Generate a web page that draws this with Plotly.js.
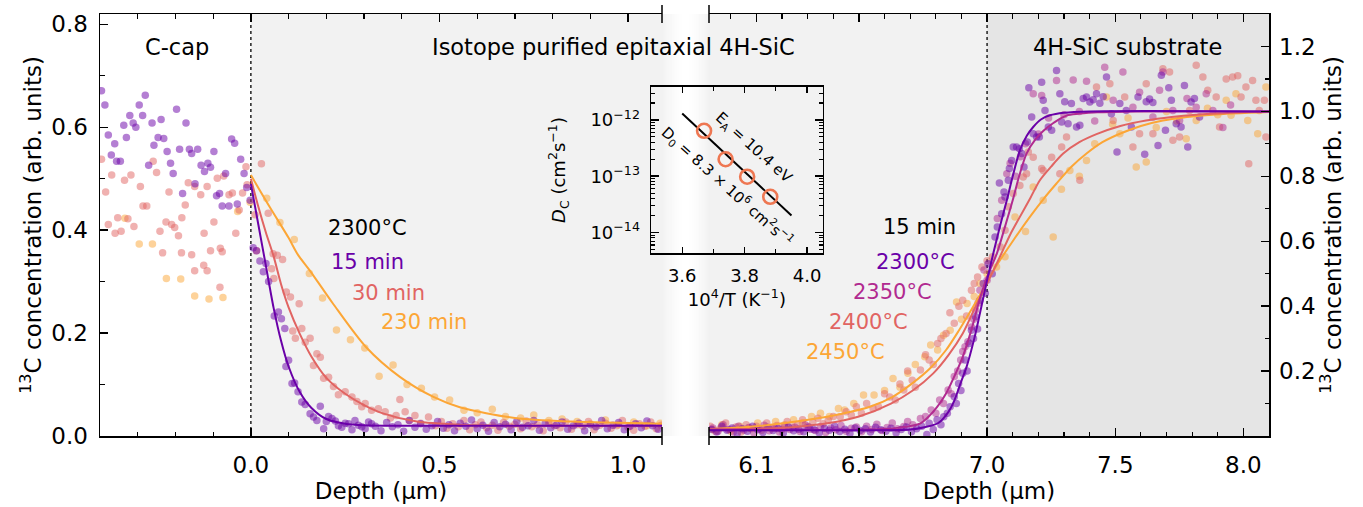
<!DOCTYPE html>
<html><head><meta charset="utf-8">
<script src="https://cdn.plot.ly/plotly-3.0.1.min.js"></script>
<style>html,body{margin:0;padding:0;background:#fff}#plot{width:1363px;height:507px}</style>
</head><body><div id="plot"></div>
<script>
// ---------------- DATA ----------------
// Left panel (near surface): fits
const fit15_x = [0, 0.02, 0.04, 0.06, 0.08, 0.10, 0.13, 0.16, 0.20, 0.25, 0.30, 0.40, 0.60, 0.80, 1.09];
const fit15_y = [0.49, 0.41, 0.33, 0.25, 0.185, 0.135, 0.085, 0.055, 0.033, 0.024, 0.021, 0.02, 0.02, 0.02, 0.02];
const fit30_x = [0, 0.02, 0.04, 0.06, 0.08, 0.10, 0.13, 0.16, 0.20, 0.25, 0.30, 0.35, 0.44, 0.55, 0.70, 1.09];
const fit30_y = [0.50, 0.445, 0.395, 0.35, 0.295, 0.25, 0.198, 0.155, 0.113, 0.082, 0.06, 0.044, 0.028, 0.022, 0.02, 0.02];
const fit230_x = [0, 0.05, 0.10, 0.125, 0.156, 0.217, 0.305, 0.395, 0.484, 0.554, 0.70, 0.85, 1.09];
const fit230_y = [0.507, 0.445, 0.385, 0.352, 0.322, 0.258, 0.173, 0.115, 0.076, 0.056, 0.035, 0.028, 0.024];

// Left panel: measured points
const d15_x = [-0.396,-0.387,-0.378,-0.37,-0.361,-0.356,-0.346,-0.337,-0.33,-0.321,-0.312,-0.305,-0.296,-0.287,-0.28,-0.271,-0.262,-0.257,-0.246,-0.238,-0.231,-0.222,-0.213,-0.206,-0.197,-0.189,-0.181,-0.172,-0.163,-0.157,-0.148,-0.141,-0.132,-0.123,-0.114,-0.107,-0.098,-0.091,-0.083,-0.076,-0.067,-0.058,-0.051,-0.043,-0.036,-0.027,-0.018,-0.011,-0.002,
  0.006,0.015,0.024,0.033,0.04,0.047,0.062,0.073,0.081,0.09,0.093,0.1,0.109,0.116,0.125,0.135,0.144,0.157,0.166,0.175,0.184,0.193,0.2,0.206,0.215,0.224,0.232,0.241,0.25,0.259,0.268,0.276,0.285,0.294,0.303,0.312,0.32,
  0.33,0.345,0.36,0.375,0.39,0.405,0.42,0.435,0.45,0.465,0.48,0.495,0.51,0.525,0.54,0.555,0.57,0.585,0.6,0.615,0.63,0.645,0.66,0.675,0.69,0.705,0.72,0.735,0.75,0.765,0.78,0.795,0.81,0.825,0.84,0.855,0.87,0.885,0.9,0.915,0.93,0.945,0.96,0.975,0.99,1.005,1.02,1.035,1.05,1.065,1.08];
const d15_y = [0.671,0.643,0.585,0.546,0.568,0.534,0.534,0.604,0.58,0.623,0.608,0.6,0.643,0.623,0.662,0.526,0.608,0.565,0.58,0.615,0.578,0.553,0.53,0.51,0.635,0.557,0.471,0.608,0.557,0.549,0.49,0.557,0.526,0.514,0.53,0.522,0.553,0.467,0.471,0.447,0.51,0.447,0.577,0.569,0.451,0.538,0.51,0.483,0.458,
  0.366,0.36,0.34,0.319,0.335,0.3,0.233,0.241,0.228,0.209,0.135,0.147,0.102,0.103,0.086,0.066,0.061,0.043,0.037,0.03,0.058,0.014,0.028,0.038,0.034,0.029,0.02,0.017,0.025,0.024,0.012,0.03,0.021,0.018,0.014,0.027,0.024,
  0.019,0.01,0.026,0.018,0.022,0.009,0.03,0.017,0.024,0.013,0.02,0.028,0.015,0.022,0.01,0.025,0.019,0.031,0.014,0.021,0.009,0.026,0.018,0.023,0.012,0.028,0.017,0.02,0.03,0.011,0.024,0.016,0.021,0.027,0.013,0.02,0.025,0.01,0.022,0.018,0.03,0.014,0.021,0.026,0.012,0.019,0.024,0.016,0.029,0.02,0.013];

const d30_x = [-0.396,-0.385,-0.378,-0.369,-0.36,-0.353,-0.344,-0.335,-0.326,-0.318,-0.31,-0.293,-0.286,-0.276,-0.259,-0.25,-0.241,-0.225,-0.217,-0.21,-0.202,-0.192,-0.183,-0.174,-0.166,-0.157,-0.149,-0.133,-0.124,-0.116,-0.107,-0.098,-0.089,-0.081,-0.072,-0.058,-0.049,-0.04,-0.031,-0.022,-0.013,-0.01,
  -0.234,-0.184,-0.076,-0.125,-0.149,-0.116,-0.082,
  0.011,0.015,0.028,0.046,0.055,0.059,0.061,0.07,0.084,0.094,0.105,0.111,0.118,0.128,0.135,0.144,0.157,0.166,0.175,0.184,0.193,0.206,0.219,0.232,0.25,0.268,0.281,0.294,0.303,0.32,0.338,0.356,0.37,0.385,0.395,0.409,0.42,0.435,0.45,0.471,
  0.49,0.505,0.52,0.535,0.55,0.565,0.58,0.595,0.61,0.625,0.64,0.655,0.67,0.685,0.7,0.715,0.73,0.745,0.76,0.775,0.79,0.805,0.82,0.835,0.85,0.865,0.88,0.895,0.91,0.925,0.94,0.955,0.97,0.985,1.0,1.015,1.03,1.045,1.06,1.075,1.088];
const d30_y = [0.538,0.474,0.411,0.507,0.394,0.424,0.398,0.497,0.422,0.507,0.407,0.485,0.447,0.447,0.534,0.512,0.398,0.416,0.474,0.411,0.405,0.389,0.424,0.449,0.492,0.352,0.485,0.469,0.394,0.485,0.36,0.416,0.501,0.365,0.505,0.469,0.472,0.394,0.439,0.472,0.523,0.488,
  0.356,0.356,0.358,0.332,0.321,0.321,0.289,
  0.43,0.36,0.529,0.433,0.325,0.354,0.306,0.351,0.343,0.28,0.27,0.204,0.19,0.257,0.209,0.182,0.19,0.137,0.16,0.153,0.112,0.114,0.096,0.08,0.086,0.076,0.067,0.057,0.063,0.05,0.053,0.047,0.035,0.04,0.071,0.047,0.03,0.04,0.025,0.037,
  0.02,0.028,0.015,0.024,0.018,0.03,0.012,0.022,0.027,0.016,0.021,0.011,0.026,0.019,0.023,0.014,0.029,0.018,0.022,0.01,0.025,0.02,0.016,0.027,0.013,0.022,0.019,0.028,0.012,0.021,0.025,0.015,0.02,0.03,0.017,0.011,0.024,0.019,0.027,0.014,0.021];

const d230_x = [-0.334,-0.296,-0.261,-0.224,-0.186,-0.149,-0.111,-0.074,-0.035,-0.002,
  0.042,0.077,0.115,0.155,0.19,0.227,0.264,0.302,0.34,0.377,0.414,0.452,0.487,0.527,0.565,0.6,0.64,0.675,0.715,0.75,0.79,0.825,0.865,0.9,0.94,0.975,1.015,1.05,1.085];
const d230_y = [0.423,0.373,0.373,0.306,0.305,0.272,0.266,0.269,0.436,0.454,
  0.462,0.415,0.382,0.316,0.268,0.206,0.187,0.171,0.116,0.138,0.1,0.093,0.076,0.07,0.05,0.045,0.052,0.038,0.035,0.041,0.03,0.033,0.028,0.024,0.031,0.022,0.027,0.02,0.025];

// Right panel (substrate interface): fits (right axis units)
const f2300_x = [5.915, 6.5, 6.7, 6.76, 6.81, 6.85, 6.87, 6.9, 6.92, 6.95, 6.97, 7.0, 7.025, 7.05, 7.077, 7.1, 7.128, 7.155, 7.18, 7.21, 7.245, 7.3, 7.4, 8.1];
const f2300_y = [0.018, 0.018, 0.02, 0.028, 0.04, 0.075, 0.105, 0.17, 0.213, 0.3, 0.37, 0.48, 0.565, 0.645, 0.726, 0.8, 0.88, 0.925, 0.952, 0.975, 0.988, 0.996, 1.0, 1.0];
const f2350_x = [5.915, 6.55, 6.65, 6.74, 6.79, 6.84, 6.87, 6.905, 6.94, 6.97, 7.0, 7.038, 7.07, 7.1, 7.125, 7.154, 7.19, 7.22, 7.26, 7.31, 7.43, 7.6, 8.1];
const f2350_y = [0.02, 0.02, 0.025, 0.039, 0.075, 0.131, 0.18, 0.244, 0.33, 0.418, 0.49, 0.562, 0.645, 0.726, 0.8, 0.87, 0.915, 0.94, 0.965, 0.987, 0.997, 1.0, 1.0];
const f2400_x = [5.915, 6.1, 6.25, 6.377, 6.5, 6.625, 6.71, 6.79, 6.85, 6.905, 6.95, 7.0, 7.05, 7.09, 7.128, 7.17, 7.206, 7.25, 7.297, 7.36, 7.427, 7.52, 7.62, 7.72, 7.816, 8.0, 8.1];
const f2400_y = [0.02, 0.022, 0.028, 0.039, 0.06, 0.10, 0.14, 0.193, 0.25, 0.316, 0.39, 0.47, 0.552, 0.62, 0.675, 0.735, 0.788, 0.83, 0.87, 0.905, 0.93, 0.955, 0.972, 0.983, 0.99, 0.997, 1.0];
const f2450_x = [5.915, 6.1, 6.296, 6.43, 6.543, 6.63, 6.708, 6.78, 6.84, 6.89, 6.938, 6.99, 7.037, 7.1, 7.167, 7.22, 7.27, 7.33, 7.388, 7.45, 7.518, 7.6, 7.686, 7.78, 7.88, 8.1];
const f2450_y = [0.021, 0.03, 0.049, 0.068, 0.09, 0.12, 0.162, 0.21, 0.265, 0.325, 0.388, 0.46, 0.525, 0.6, 0.675, 0.73, 0.777, 0.83, 0.87, 0.905, 0.931, 0.955, 0.972, 0.983, 0.99, 0.998];

// Right panel: measured points
const p2300_x = [5.925,5.945,5.965,5.985,6.005,6.025,6.045,6.065,6.085,6.105,6.125,6.145,6.165,6.185,6.205,6.225,6.245,6.265,6.285,6.305,6.325,6.345,6.365,6.385,6.405,6.425,6.445,6.465,6.485,6.505,6.525,6.545,6.565,6.585,6.605,6.625,6.645,6.665,6.685,6.705,6.725,6.745,6.765,6.774,6.79,6.805,6.82,6.831,6.845,6.856,6.872,6.88,6.889,6.898,6.905,6.914,6.922,6.93,6.939,6.947,6.955,6.963,6.972,6.985,6.993,7.004,7.02,7.031,7.04,7.048,7.057,7.066,7.07,7.083,7.087,7.096,7.102,7.115,7.126,7.135,7.144,7.157,7.163,7.174,7.18,7.193,7.204,7.213,7.219,7.226,7.239,7.252,7.271,7.284,7.291,7.303,7.316,7.329,7.349,7.362,7.375,7.388,7.401,7.414,7.427,7.44,7.453,7.466,7.485,7.507,7.518,7.543,7.563,7.589,7.615,7.621,7.634,7.647,7.667,7.68,7.696,7.709,7.719,7.738,7.757,7.77,7.783,7.796,7.809,7.829];
const p2300_y = [0.02,0.012,0.03,0.018,0.025,0.008,0.022,0.015,0.03,0.019,0.011,0.026,0.017,0.023,0.009,0.028,0.016,0.021,0.013,0.027,0.019,0.01,0.024,0.018,0.03,0.014,0.021,0.008,0.025,0.017,0.022,0.012,0.027,0.019,0.015,0.024,0.01,0.02,0.028,0.013,0.022,0.03,0.005,0.039,0.02,0.05,0.035,0.059,0.07,0.09,0.121,0.1,0.162,0.14,0.193,0.234,0.2,0.285,0.326,0.3,0.367,0.33,0.418,0.47,0.44,0.531,0.5,0.613,0.644,0.779,0.685,0.752,0.736,0.788,0.824,0.849,0.89,0.89,0.885,0.87,0.829,0.906,1.073,0.983,0.931,0.921,0.921,1.09,1.034,1.003,0.952,0.942,1.126,1.054,0.967,1.03,0.962,1.024,0.952,0.957,1.04,1.044,1.029,1.036,1.054,1.025,1.045,1.106,0.993,0.875,1.024,1.003,0.952,1.044,0.868,1.03,1.038,1.027,0.895,1.111,0.942,1.073,1.034,0.962,0.952,1.08,0.89,1.029,1.04,0.983];

const p2350_x = [5.93,5.95,5.97,5.99,6.01,6.03,6.05,6.07,6.09,6.11,6.13,6.15,6.17,6.19,6.21,6.23,6.25,6.27,6.29,6.31,6.33,6.35,6.37,6.39,6.41,6.43,6.45,6.47,6.49,6.51,6.53,6.55,6.57,6.59,6.61,6.63,6.65,6.675,6.69,6.71,6.74,6.76,6.782,6.8,6.815,6.83,6.848,6.86,6.872,6.885,6.897,6.905,6.914,6.925,6.939,6.948,6.955,6.965,6.972,6.988,7.0,7.04,7.057,7.077,7.09,7.11,7.13,7.15,7.18,7.2,7.213,7.24,7.271,7.3,7.336,7.36,7.388,7.42,7.459,7.492,7.53,7.569,7.595,7.647,7.673,7.686,7.725,7.751,7.78,7.816,7.855,7.881,7.92,7.95];
const p2350_y = [0.025,0.015,0.035,0.02,0.012,0.03,0.018,0.026,0.01,0.022,0.033,0.016,0.024,0.012,0.03,0.02,0.027,0.014,0.035,0.021,0.017,0.029,0.011,0.025,0.019,0.032,0.015,0.024,0.028,0.013,0.03,0.02,0.036,0.017,0.026,0.04,0.022,0.029,0.045,0.035,0.054,0.06,0.08,0.07,0.111,0.1,0.142,0.13,0.183,0.2,0.234,0.26,0.275,0.29,0.336,0.36,0.388,0.41,0.449,0.511,0.48,0.67,0.726,0.808,0.84,0.8,0.86,0.9,1.054,0.93,1.049,0.98,1.095,0.99,1.097,1.0,1.093,0.97,1.136,1.034,1.121,1.013,1.059,0.983,1.065,1.121,1.003,0.972,1.04,1.013,1.054,1.003,0.95,1.02];

const p2400_x = [5.92,5.94,5.96,5.98,6.0,6.02,6.04,6.06,6.08,6.1,6.12,6.14,6.16,6.18,6.2,6.22,6.24,6.26,6.28,6.3,6.32,6.34,6.36,6.38,6.4,6.427,6.45,6.47,6.49,6.51,6.53,6.555,6.576,6.6,6.62,6.642,6.66,6.675,6.69,6.708,6.72,6.74,6.76,6.774,6.79,6.807,6.82,6.84,6.855,6.872,6.89,6.905,6.92,6.939,6.95,6.963,6.98,7.0,7.021,7.051,7.07,7.083,7.102,7.128,7.141,7.154,7.161,7.18,7.213,7.219,7.252,7.284,7.291,7.31,7.362,7.427,7.479,7.492,7.537,7.569,7.595,7.621,7.647,7.686,7.712,7.725,7.751,7.79,7.816,7.842,7.861,7.894,7.907,7.933,7.958,7.978,7.991,8.01,8.021,8.036,8.049,8.062,8.082,8.088];
const p2400_y = [0.03,0.015,0.025,0.04,0.02,0.028,0.012,0.035,0.022,0.03,0.018,0.04,0.025,0.032,0.02,0.045,0.028,0.035,0.05,0.03,0.042,0.055,0.038,0.048,0.06,0.059,0.075,0.065,0.09,0.07,0.1,0.085,0.09,0.13,0.12,0.111,0.16,0.142,0.2,0.172,0.15,0.203,0.25,0.234,0.22,0.285,0.3,0.316,0.38,0.347,0.4,0.418,0.37,0.449,0.47,0.49,0.521,0.54,0.552,0.583,0.634,0.706,0.747,0.772,0.798,0.808,0.875,0.859,0.824,0.818,0.859,0.808,0.89,0.921,0.788,1.075,1.085,0.972,1.044,0.89,0.931,1.085,0.931,1.131,1.121,0.911,0.921,1.003,1.142,1.106,1.065,1.044,0.952,1.1,1.106,1.11,1.044,1.075,0.839,1.095,1.034,1.003,1.034,0.921];

const p2450_x = [5.93,5.965,6.0,6.035,6.07,6.105,6.14,6.175,6.21,6.245,6.28,6.315,6.35,6.385,6.42,6.444,6.48,6.518,6.559,6.6,6.633,6.66,6.691,6.72,6.757,6.78,6.807,6.83,6.856,6.881,6.9,6.922,6.95,6.972,7.0,7.037,7.07,7.109,7.15,7.18,7.219,7.258,7.29,7.323,7.36,7.388,7.42,7.466,7.49,7.518,7.55,7.582,7.621,7.66,7.7,7.74,7.777,7.816,7.86,7.9,7.933,7.952,7.971,8.017,8.056,8.088];
const p2450_y = [0.02,0.035,0.015,0.03,0.025,0.04,0.028,0.045,0.035,0.05,0.04,0.06,0.07,0.06,0.085,0.08,0.1,0.126,0.126,0.14,0.177,0.15,0.193,0.22,0.244,0.28,0.265,0.31,0.326,0.413,0.36,0.408,0.43,0.47,0.5,0.521,0.552,0.675,0.63,0.767,0.726,0.613,0.76,0.818,0.8,0.849,0.9,1.044,0.96,0.931,0.98,0.829,0.844,0.95,1.0,0.97,0.916,0.972,1.01,0.99,1.034,0.988,1.054,0.972,0.931,1.075];

// Inset: Arrhenius plot
const arrT = [3.67, 3.739, 3.808, 3.882];            // 10^4/T (1/K)
const arrD = [6.4e-13, 2.0e-13, 9.8e-14, 4.3e-14];   // D_C (cm^2/s)
const arrFitT = [3.6, 3.95];
const arrFitD = [1.3e-12, 2.0e-14];

// Tick values / labels
const tickL_x = [0, 0.5, 1.0], tickL_xt = ['0.0', '0.5', '1.0'];
const tickL_y = [0, 0.2, 0.4, 0.6, 0.8], tickL_yt = ['0.0', '0.2', '0.4', '0.6', '0.8'];
const tickR_x = [6.1, 6.5, 7.0, 7.5, 8.0], tickR_xt = ['6.1', '6.5', '7.0', '7.5', '8.0'];
const tickR_y = [0.2, 0.4, 0.6, 0.8, 1.0, 1.2], tickR_yt = ['0.2', '0.4', '0.6', '0.8', '1.0', '1.2'];
const tickI_x = [3.6, 3.8, 4.0], tickI_xt = ['3.6', '3.8', '4.0'];
const tickI_y = [1e-14, 1e-13, 1e-12], tickI_yt = ['10<sup>−14</sup>', '10<sup>−13</sup>', '10<sup>−12</sup>'];

// ---------------- STYLE / LAYOUT ----------------
const C1 = '#6a00a8', C2 = '#b12a90', C3 = '#e16462', C4 = '#fca636';
const FONT = 'DejaVu Sans, Liberation Sans, sans-serif';
const W = 1363, H = 507, L = 100, R = 94, T = 14, B = 71;
const PW = W - L - R, PH = H - T - B;
const px = p => (p - L) / PW;
const py = p => (H - B - p) / PH;

function dots(x, y, c, xa, ya) {
  return {x, y, xaxis: xa, yaxis: ya, type: 'scatter', mode: 'markers', hoverinfo: 'skip',
    marker: {size: 7.5, color: c, opacity: 0.5, line: {width: 0}}, showlegend: false};
}
function fit(x, y, c, xa, ya) {
  return {x, y, xaxis: xa, yaxis: ya, type: 'scatter', mode: 'lines', hoverinfo: 'skip',
    line: {color: c, width: 2, shape: 'spline', smoothing: 0.8}, showlegend: false};
}

const traces = [
  dots(d230_x, d230_y, C4, 'x', 'y'), dots(d30_x, d30_y, C3, 'x', 'y'), dots(d15_x, d15_y, C1, 'x', 'y'),
  fit(fit230_x, fit230_y, C4, 'x', 'y'), fit(fit30_x, fit30_y, C3, 'x', 'y'), fit(fit15_x, fit15_y, C1, 'x', 'y'),
  dots(p2450_x, p2450_y, C4, 'x2', 'y2'), dots(p2400_x, p2400_y, C3, 'x2', 'y2'),
  dots(p2350_x, p2350_y, C2, 'x2', 'y2'), dots(p2300_x, p2300_y, C1, 'x2', 'y2'),
  fit(f2450_x, f2450_y, C4, 'x2', 'y2'), fit(f2400_x, f2400_y, C3, 'x2', 'y2'),
  fit(f2350_x, f2350_y, C2, 'x2', 'y2'), fit(f2300_x, f2300_y, C1, 'x2', 'y2'),
  {x: arrFitT, y: arrFitD, xaxis: 'x3', yaxis: 'y3', type: 'scatter', mode: 'lines',
   line: {color: '#000', width: 2}, showlegend: false, hoverinfo: 'skip'},
  {x: arrT, y: arrD, xaxis: 'x3', yaxis: 'y3', type: 'scatter', mode: 'markers',
   marker: {symbol: 'circle-open', size: 14, color: '#ee7752', line: {width: 2.6, color: '#ee7752'}},
   showlegend: false, hoverinfo: 'skip'}
];

const axBase = {showline: true, linecolor: '#000', linewidth: 1.5, ticks: 'inside', ticklen: 8,
  tickwidth: 1.4, tickcolor: '#000', showgrid: false, zeroline: false, tickmode: 'array',
  tickfont: {family: FONT, size: 23, color: '#000'}};

const minorTicks = {ticks: 'inside', ticklen: 4.5, tickwidth: 1.2, tickcolor: '#000', dtick: 0.1, tick0: 0, showgrid: false};

// minor tick positions for log inset axis (decoration)
const logMinor = [];
for (let e = -15; e <= -11; e++) for (let m = 2; m <= 9; m++) logMinor.push(m * Math.pow(10, e));

const shapes = [];
shapes.push({type: 'rect', xref: 'paper', yref: 'paper', x0: px(251), x1: px(662), y0: 0, y1: 1,
  fillcolor: '#f2f2f2', line: {width: 0}, layer: 'below'});
shapes.push({type: 'rect', xref: 'paper', yref: 'paper', x0: px(709), x1: px(987), y0: 0, y1: 1,
  fillcolor: '#f2f2f2', line: {width: 0}, layer: 'below'});
for (let p = 662; p < 709; p++) {
  const a = Math.pow(Math.abs(p + 0.5 - 685.5) / 23.5, 1.6);
  shapes.push({type: 'rect', xref: 'paper', yref: 'paper', x0: px(p), x1: px(p + 1.05), y0: 0, y1: 1,
    fillcolor: '#f2f2f2', opacity: a, line: {width: 0}, layer: 'below'});
}
shapes.push({type: 'rect', xref: 'x2', yref: 'paper', x0: 7.0, x1: 8.1, y0: 0, y1: 1,
  fillcolor: '#e5e5e5', line: {width: 0}, layer: 'below'});
shapes.push({type: 'line', xref: 'x', yref: 'paper', x0: 0, x1: 0, y0: 0, y1: 1,
  line: {color: '#222', width: 1.5, dash: 'dot'}, layer: 'below'});
shapes.push({type: 'line', xref: 'x2', yref: 'paper', x0: 7.0, x1: 7.0, y0: 0, y1: 1,
  line: {color: '#222', width: 1.5, dash: 'dot'}, layer: 'below'});
[662, 709].forEach(xp => {
  [T, H - B].forEach(yp => {
    shapes.push({type: 'line', xref: 'paper', yref: 'paper', x0: px(xp), x1: px(xp), y0: py(yp - 9), y1: py(yp + 9),
      line: {color: '#000', width: 1.5}, layer: 'above'});
  });
});

function lab(text, xp, yp, color, size) {
  return {text, xref: 'paper', yref: 'paper', x: px(xp), y: py(yp), xanchor: 'center', yanchor: 'middle',
    showarrow: false, font: {family: FONT, size: size, color: color}};
}
const annotations = [
  lab('C-cap', 177, 47, '#000', 22.5),
  lab('Isotope purified epitaxial 4H-SiC', 613, 47, '#000', 22.5),
  lab('4H-SiC substrate', 1127, 47, '#000', 22.5),
  lab('2300°C', 367, 228, '#000', 21),
  lab('15 min', 367, 262, C1, 21),
  lab('30 min', 388, 293, C3, 21),
  lab('230 min', 424, 322, C4, 21),
  lab('15 min', 919, 227, '#000', 21),
  lab('2300°C', 915, 262, C1, 21),
  lab('2350°C', 892, 292, C2, 21),
  lab('2400°C', 868, 322, C3, 21),
  lab('2450°C', 845, 352, C4, 21),
  Object.assign(lab('E<sub>A</sub> = 10.4 eV', 753, 148, '#000', 15), {textangle: 42}),
  Object.assign(lab('D<sub>0</sub> = 8.3 × 10<sup>6</sup> cm<sup>2</sup>s<sup>−1</sup>', 728, 186, '#000', 15), {textangle: 42})
];

const layout = {
  width: W, height: H, margin: {l: L, r: R, t: T, b: B, pad: 0},
  paper_bgcolor: '#fff', plot_bgcolor: 'rgba(0,0,0,0)',
  font: {family: FONT, color: '#000'}, showlegend: false,
  xaxis: Object.assign({}, axBase, {domain: [0, px(662)], range: [-0.4, 1.09], anchor: 'y', mirror: 'ticks',
    tickvals: tickL_x, ticktext: tickL_xt, minor: minorTicks, ticklabelstandoff: 8,
    title: {text: 'Depth (μm)', font: {family: FONT, size: 23}, standoff: 4}}),
  yaxis: Object.assign({}, axBase, {domain: [0, 1], range: [0, 0.82], anchor: 'x',
    tickvals: tickL_y, ticktext: tickL_yt, minor: minorTicks, ticklabelstandoff: 6,
    title: {text: '<sup>13</sup>C concentration (arb. units)', font: {family: FONT, size: 23}, standoff: 3}}),
  xaxis2: Object.assign({}, axBase, {domain: [px(709), 1], range: [5.915, 8.1], anchor: 'y2', mirror: 'ticks',
    tickvals: tickR_x, ticktext: tickR_xt, minor: minorTicks, ticklabelstandoff: 8,
    title: {text: 'Depth (μm)', font: {family: FONT, size: 23}, standoff: 4}}),
  yaxis2: Object.assign({}, axBase, {domain: [0, 1], range: [0, 1.3], anchor: 'x2', side: 'right',
    tickvals: tickR_y, ticktext: tickR_yt, minor: minorTicks, ticklabelstandoff: 4,
    title: {text: '<sup>13</sup>C concentration (arb. units)', font: {family: FONT, size: 23}, standoff: 10}}),
  xaxis3: Object.assign({}, axBase, {domain: [px(651), px(822.7)], range: [3.5, 4.05], anchor: 'y3', mirror: 'ticks',
    ticklen: 6, tickvals: tickI_x, ticktext: tickI_xt, tickfont: {family: FONT, size: 18},
    minor: {ticks: 'inside', ticklen: 4, tickwidth: 1.2, tickcolor: '#000', dtick: 0.1, tick0: 0},
    ticklabelstandoff: 6,
    title: {text: '10<sup>4</sup>/T (K<sup>−1</sup>)', font: {family: FONT, size: 18}, standoff: 6}}),
  yaxis3: Object.assign({}, axBase, {domain: [py(253.3), py(86.7)], type: 'log', range: [-14.37, -11.41], anchor: 'x3',
    mirror: 'ticks', ticklen: 8, tickvals: tickI_y, ticktext: tickI_yt, tickfont: {family: FONT, size: 18},
    minor: {ticks: 'inside', ticklen: 4, tickwidth: 1.1, tickcolor: '#000', tickmode: 'array', tickvals: logMinor},
    ticklabelstandoff: 6,
    title: {text: '<i>D</i><sub>C</sub> (cm<sup>2</sup>s<sup>−1</sup>)', font: {family: FONT, size: 18}, standoff: 20}}),
  shapes, annotations
};

Plotly.newPlot('plot', traces, layout, {displayModeBar: false, staticPlot: true});
</script></body></html>
